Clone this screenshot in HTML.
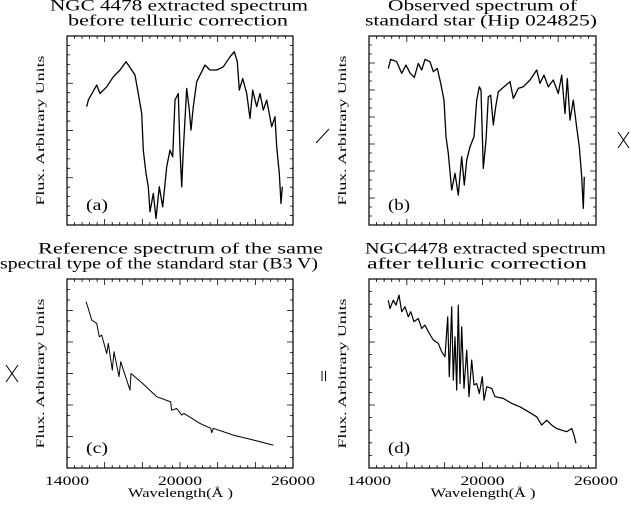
<!DOCTYPE html>
<html><head><meta charset="utf-8"><style>
body{margin:0;background:#fff;width:631px;height:506px;overflow:hidden}
svg{display:block;font-family:"Liberation Serif","DejaVu Serif",serif}
</style></head><body>
<svg id="fig" width="631" height="506" viewBox="0 0 631 506" xmlns="http://www.w3.org/2000/svg">
<g><line x1="316" y1="143" x2="329" y2="129" stroke="#000" stroke-width="1"/></g>
<g><line x1="618" y1="132" x2="629" y2="148" stroke="#000"/><line x1="629" y1="132" x2="618" y2="148" stroke="#000"/></g>
<g><line x1="6" y1="365" x2="18" y2="382" stroke="#000"/><line x1="18" y1="365" x2="6" y2="382" stroke="#000"/></g>
<g><line x1="322" y1="371" x2="322" y2="381" stroke="#000"/><line x1="325.5" y1="371" x2="325.5" y2="381" stroke="#000"/></g>
</svg>
<script>
// Panel (a): NGC 4478 before telluric correction
const waveA=[15044,15132,15575,15752,16106,16460,16814,17133,17434,17610,17788,17965,18053,18195,18319,18407,18584,18726,18903,19080,19292,19469,19611,19735,19912,20000,20089,20177,20354,20496,20584,20708,20885,21062,21328,21593,21947,22301,22655,22885,23044,23151,23328,23540,23717,23859,24071,24248,24425,24602,24868,25045,25133,25275,25363,25434];
const fluxA=[62.6,66.1,74,69.6,73.1,78.4,82,86.4,82,79.3,69.6,59,39.6,27.3,20.2,7,16.7,3.5,20.2,9.6,30.8,39.6,36.1,66.1,69.6,39.6,20.2,39.6,72.3,60.8,50.2,62.6,75.8,79.3,84.6,82,82,83.7,89,91.7,86.4,71.4,77.5,69.6,56.4,71.4,62.6,69.6,60.8,66.1,52,57.3,41.4,27.3,11.4,20.2];
// Panel (b): standard star observed
const waveB=[15022,15145,15463,15727,15956,16167,16397,16608,16784,16960,17225,17401,17612,17788,17964,18070,18194,18370,18546,18722,18899,19039,19163,19339,19550,19691,19832,19920,20044,20185,20308,20431,20572,20696,20837,21101,21453,21630,21894,22158,22511,22863,23039,23251,23480,23744,24008,24185,24361,24484,24625,24801,24977,25118,25242,25330,25383];
const fluxB=[82.8,87.6,86.4,80.2,84.6,80.5,78.1,85.5,82,87.6,86.4,81.1,82.8,74.9,66.1,46.7,37.9,18.5,27.3,15.8,36.1,21.1,34.3,41.4,46.7,66.1,73.1,71.4,29.9,44.9,67.8,68.7,52.9,62.6,70.5,72.8,75.8,67,72.3,73.1,76.7,82,74.9,79.3,73.1,76.7,69.6,79.3,59,77.5,55.5,66.1,52,41.4,25.5,8.8,25.5];
// Panel (c): reference spectrum B3 V
const waveC=[15009,15133,15310,15575,15717,15841,16106,16195,16407,16495,16761,16849,17345,17398,18018,18761,19504,19556,19823,20089,20212,21062,21628,21681,21770,22832,23894,24956];
const fluxC=[88,84.4,78.3,76.5,69.4,70.3,60.6,65.9,51.8,61.5,48.3,56.2,41.2,50,44.7,37.7,35,30.6,31.5,28,28.9,23.6,21,18.6,21,17.4,14.8,12.1];
// Panel (d): after telluric correction
const waveD=[15022,15110,15286,15427,15586,15727,15903,16079,16203,16379,16608,16784,16960,17137,17401,17665,17841,18018,18158,18246,18370,18458,18546,18634,18722,18810,18899,19022,19163,19286,19427,19550,19691,19832,19991,20079,20220,20484,20661,21101,21542,21982,22423,22863,23128,23392,23656,23920,24185,24449,24713,24836,24942];
const fluxD=[88.8,84.4,88.8,86.2,91.5,82.7,85.3,80,82.7,77.4,79.1,73.8,75.6,72.1,67.7,65.9,61.5,58.9,80,48.3,85.3,46.5,69.4,41.2,86.2,44.7,74.7,42.1,62.4,37.7,57.1,43.9,44.7,39.4,48.3,35.9,43,42.1,37.7,36.8,34.2,32.4,29.8,27.1,22.7,25.3,22.7,20.9,20,19.2,20.9,17.4,13];
const xTicks=[14000,20000,26000];
const titlesA=["NGC 4478 extracted spectrum","before telluric correction"];
const titlesB=["Observed spectrum of","standard star (Hip 024825)"];
const titlesC=["Reference spectrum of the same","spectral type of the standard star (B3 V)"];
const titlesD=["NGC4478 extracted spectrum","after telluric correction"];
// title layout: [left x, width] per line
const titleBoxA=[[50,258],[68,220]];
const titleBoxB=[[388,189],[365,232]];
const titleBoxC=[[38,285],[0,318]];
const titleBoxD=[[365,241],[367,220]];

const NS="http://www.w3.org/2000/svg";
const svg=document.getElementById('fig');
function mk(tag,attrs,parent){const e=document.createElementNS(NS,tag);for(const k in attrs)e.setAttribute(k,attrs[k]);parent.appendChild(e);return e;}

function panel(id,x0,y0,x1,y1,wave,flux,titles,boxes,letter,yMajors,yMinorsPer,showX,lw){
  const g=mk('g',{},svg);
  
  
  const sx=w=>x0+(w-14000)/12000*(x1-x0);
  const sy=f=>y1-f/100*(y1-y0);
  titles.forEach((t,i)=>{
    const tt=mk('text',{x:boxes[i][0],y:y0-25.5+i*15,'font-size':'15.5',textLength:boxes[i][1],lengthAdjust:'spacingAndGlyphs'},g);
    tt.textContent=t;
    
    
  });
  const fr=mk('rect',{x:x0,y:y0,width:x1-x0,height:y1-y0,fill:'none',stroke:'#000','stroke-width':1.2},g);
  
  
  let d='';
  for(let w=14000;w<=26000;w+=400){
    const x=sx(w);const L=(w%2000===0)?6:3;
    d+=`M${x},${y1}v${-L}M${x},${y0}v${L}`;
  }
  const n=yMajors*yMinorsPer;
  for(let i=1;i<n;i++){
    const y=y1-i/n*(y1-y0);const L=(i%yMinorsPer===0)?6:3;
    d+=`M${x0},${y}h${L}M${x1},${y}h${-L}`;
  }
  const tk=mk('path',{d:d,stroke:'#000','stroke-width':0.8,fill:'none'},g);
  
  
  if(showX){
    xTicks.forEach(v=>{
      const t=mk('text',{x:sx(v)-22,y:y1+17,'font-size':'13',textLength:44,lengthAdjust:'spacingAndGlyphs'},g);
      t.textContent=v;
      
      
    });
    const xl=mk('text',{x:(x0+x1)/2-52,y:y1+29,'font-size':'12.5',textLength:105,lengthAdjust:'spacingAndGlyphs'},g);
    xl.textContent='Wavelength(Å )';
    
    
  }
  const yl=mk('text',{x:-75,y:0,'font-size':'12',textLength:150,lengthAdjust:'spacingAndGlyphs',transform:`translate(${x0-23},${(y0+y1)/2}) rotate(-90)`},g);
  yl.textContent='Flux. Arbitrary Units';
  
  
  const lb=mk('text',{x:x0+19,y:y1-15,'font-size':'16',textLength:22,lengthAdjust:'spacingAndGlyphs'},g);
  lb.textContent='('+letter+')';
  
  
  const pts=wave.map((w,i)=>sx(w).toFixed(1)+','+sy(flux[i]).toFixed(1)).join(' ');
  const pl=mk('polyline',{points:pts,fill:'none',stroke:'#000','stroke-width':lw,'stroke-linejoin':'round'},g);
  
  
}
panel('a',67,36,293,225,waveA,fluxA,titlesA,titleBoxA,'a',4,5,false,1.3);
panel('b',369,36,596,225,waveB,fluxB,titlesB,titleBoxB,'b',7,3,false,1.3);
panel('c',67,279,293,468,waveC,fluxC,titlesC,titleBoxC,'c',6,3,true,1);
panel('d',369,279,596,468,waveD,fluxD,titlesD,titleBoxD,'d',3,5,true,1.2);
</script>
</body></html>
